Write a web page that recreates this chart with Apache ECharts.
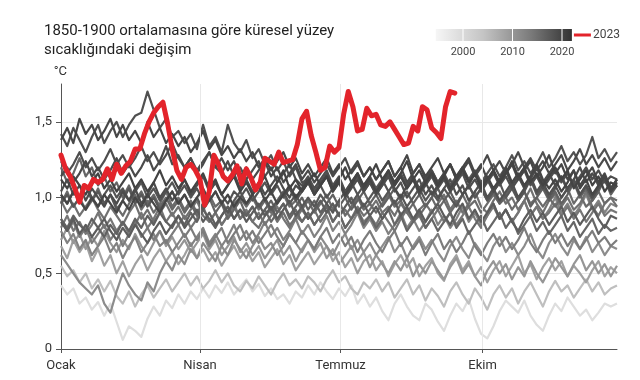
<!DOCTYPE html>
<html>
<head>
<meta charset="utf-8">
<script src="https://cdn.jsdelivr.net/npm/echarts@6/dist/echarts.min.js"></script>
<style>html,body{margin:0;padding:0;background:#fff}#c{width:640px;height:380px}</style>
</head>
<body>
<div id="c"></div>
<script>
// ---------- DATA ----------
const titleText = '1850-1900 ortalamasına göre küresel yüzey\nsıcaklığındaki değişim';
const unitLabel = '°C';
const monthLabels = ['Ocak', 'Nisan', 'Temmuz', 'Ekim'];
const monthStartDays = [0, 90, 181, 273];
const legendYears = [2000, 2010, 2020];
const legendFirstYear = 1995;
const legendLastYear = 2022;
const highlightYear = '2023';
const grayStepDays = 4;
const redStepDays = 3;

const years = [1979, 1982, 1988, 1991, 1994, 1997, 1999, 2001, 2003, 2005, 2007, 2009, 2011, 2013, 2015, 2016, 2017, 2018, 2019, 2020, 2021, 2022];

const s1979 = [0.42,0.36,0.40,0.30,0.34,0.26,0.31,0.22,0.30,0.18, 0.06,0.15,0.12,0.08,0.20,0.28,0.22,0.32,0.27,0.36, 0.30,0.38,0.33,0.40,0.34,0.42,0.37,0.44,0.36,0.41, 0.46,0.38,0.43,0.35,0.40,0.33,0.36,0.30,0.38,0.34, 0.42,0.36,0.44,0.38,0.33,0.40,0.35,0.42,0.30,0.36, 0.28,0.34,0.25,0.19,0.30,0.36,0.28,0.22,0.19,0.30, 0.26,0.18,0.12,0.22,0.30,0.25,0.33,0.20,0.10,0.07, 0.15,0.25,0.32,0.28,0.24,0.32,0.22,0.16,0.12,0.22, 0.30,0.25,0.34,0.28,0.22,0.26,0.19,0.24,0.30,0.28, 0.30];
const s1982 = [0.55,0.48,0.52,0.44,0.50,0.40,0.46,0.38,0.45,0.35, 0.30,0.38,0.28,0.36,0.42,0.34,0.40,0.46,0.38,0.44, 0.50,0.42,0.48,0.40,0.45,0.52,0.44,0.50,0.42,0.38, 0.45,0.40,0.48,0.42,0.36,0.44,0.50,0.42,0.46,0.40, 0.48,0.44,0.38,0.46,0.52,0.44,0.48,0.40,0.36,0.44, 0.40,0.46,0.38,0.44,0.34,0.40,0.46,0.36,0.42,0.32, 0.40,0.35,0.28,0.38,0.44,0.36,0.30,0.40,0.34,0.26, 0.36,0.42,0.34,0.40,0.30,0.38,0.44,0.36,0.28,0.38, 0.45,0.38,0.42,0.34,0.40,0.46,0.38,0.44,0.36,0.40, 0.42];
const s1988 = [0.68,0.60,0.72,0.64,0.70,0.58,0.66,0.55,0.62,0.50, 0.58,0.48,0.56,0.62,0.52,0.60,0.66,0.58,0.64,0.56, 0.62,0.70,0.60,0.66,0.58,0.64,0.55,0.62,0.68,0.60, 0.66,0.58,0.64,0.54,0.60,0.66,0.56,0.62,0.52,0.58, 0.64,0.56,0.62,0.68,0.58,0.64,0.54,0.60,0.50,0.58, 0.62,0.52,0.58,0.48,0.56,0.62,0.54,0.60,0.48,0.55, 0.60,0.50,0.45,0.56,0.62,0.52,0.58,0.48,0.54,0.44, 0.52,0.58,0.48,0.55,0.62,0.50,0.56,0.46,0.54,0.60, 0.52,0.58,0.48,0.55,0.50,0.44,0.52,0.58,0.48,0.54, 0.50];
const s1991 = [0.72,0.80,0.70,0.76,0.66,0.74,0.68,0.78,0.70,0.64, 0.72,0.66,0.76,0.68,0.62,0.70,0.78,0.68,0.74,0.66, 0.72,0.64,0.70,0.76,0.66,0.72,0.62,0.68,0.74,0.64, 0.70,0.62,0.68,0.60,0.66,0.72,0.62,0.68,0.58,0.66, 0.72,0.64,0.70,0.60,0.66,0.56,0.62,0.68,0.58,0.64, 0.54,0.62,0.56,0.50,0.58,0.52,0.60,0.48,0.56,0.50, 0.58,0.52,0.46,0.54,0.60,0.50,0.56,0.48,0.42,0.52, 0.58,0.50,0.56,0.46,0.54,0.48,0.58,0.50,0.44,0.52, 0.60,0.54,0.48,0.56,0.62,0.52,0.58,0.50,0.56,0.48, 0.55];
const s1994 = [0.62,0.56,0.50,0.44,0.40,0.36,0.42,0.30,0.24,0.38, 0.50,0.42,0.36,0.32,0.44,0.38,0.50,0.58,0.52,0.62, 0.56,0.66,0.60,0.70,0.64,0.58,0.68,0.62,0.72,0.66, 0.60,0.68,0.74,0.66,0.70,0.62,0.68,0.76,0.70,0.64, 0.72,0.66,0.74,0.68,0.62,0.70,0.76,0.66,0.72,0.64, 0.70,0.62,0.68,0.74,0.64,0.70,0.60,0.68,0.74,0.66, 0.72,0.64,0.58,0.68,0.74,0.66,0.60,0.70,0.64,0.58, 0.68,0.74,0.64,0.70,0.62,0.68,0.76,0.66,0.60,0.70, 0.76,0.68,0.62,0.72,0.66,0.74,0.64,0.70,0.62,0.68, 0.66];
const s1997 = [0.78,0.70,0.76,0.66,0.72,0.62,0.68,0.74,0.64,0.70, 0.60,0.68,0.74,0.64,0.70,0.76,0.68,0.72,0.64,0.70, 0.76,0.68,0.74,0.80,0.70,0.76,0.68,0.74,0.82,0.72, 0.78,0.70,0.76,0.84,0.74,0.80,0.72,0.78,0.86,0.76, 0.82,0.74,0.80,0.88,0.78,0.84,0.76,0.82,0.90,0.80, 0.86,0.78,0.84,0.76,0.82,0.90,0.80,0.86,0.78,0.84, 0.92,0.82,0.88,0.80,0.86,0.94,0.84,0.90,0.82,0.88, 0.96,0.86,0.92,0.84,0.90,0.98,0.88,0.94,0.86,0.92, 1.00,0.90,0.96,0.88,0.94,1.02,0.92,0.98,0.90,0.96, 0.94];
const s1999 = [0.86,0.78,0.84,0.74,0.80,0.70,0.76,0.82,0.72,0.78, 0.68,0.76,0.84,0.74,0.80,0.72,0.78,0.70,0.76,0.82, 0.74,0.80,0.72,0.78,0.68,0.74,0.80,0.70,0.76,0.82, 0.72,0.78,0.70,0.76,0.82,0.74,0.68,0.76,0.70,0.78, 0.72,0.66,0.74,0.80,0.70,0.76,0.68,0.74,0.64,0.72, 0.78,0.70,0.64,0.72,0.78,0.68,0.74,0.66,0.72,0.62, 0.70,0.76,0.66,0.72,0.64,0.70,0.78,0.68,0.62,0.70, 0.76,0.68,0.74,0.66,0.72,0.80,0.70,0.64,0.72,0.78, 0.70,0.76,0.68,0.74,0.66,0.72,0.78,0.70,0.74,0.68, 0.72];
const s2001 = [0.80,0.88,0.78,0.84,0.76,0.82,0.90,0.80,0.86,0.78, 0.84,0.76,0.82,0.90,0.80,0.86,0.94,0.84,0.90,0.82, 0.88,0.80,0.86,0.94,0.84,0.90,0.82,0.88,0.96,0.86, 0.92,0.84,0.90,0.82,0.88,0.94,0.86,0.80,0.88,0.84, 0.90,0.82,0.88,0.94,0.84,0.90,0.80,0.86,0.92,0.84, 0.88,0.82,0.90,0.84,0.78,0.86,0.92,0.84,0.88,0.80, 0.86,0.92,0.84,0.90,0.82,0.88,0.94,0.86,0.80,0.88, 0.94,0.86,0.92,0.84,0.90,0.98,0.88,0.94,0.86,0.90, 0.96,0.88,0.94,0.86,0.92,0.84,0.90,0.96,0.88,0.92, 0.90];
const s2003 = [0.98,0.90,0.96,0.88,0.94,1.00,0.92,0.86,0.94,0.88, 0.82,0.90,0.96,0.86,0.92,0.84,0.90,0.96,0.88,0.94, 0.86,0.92,0.98,0.88,0.84,0.90,0.82,0.88,0.94,0.86, 0.90,0.84,0.80,0.88,0.92,0.84,0.90,0.82,0.86,0.92, 0.86,0.92,0.84,0.90,0.96,0.88,0.92,0.86,0.94,0.88, 0.92,0.98,0.90,0.94,0.88,0.96,0.90,0.84,0.92,0.96, 0.90,0.96,1.02,0.92,0.98,0.90,0.96,1.04,0.94,0.90, 0.98,1.04,0.96,1.00,0.92,0.98,1.06,0.96,0.90,0.98, 1.02,0.94,1.00,0.92,0.96,1.04,0.94,0.88,0.96,1.00, 0.94];
const s2005 = [0.96,1.04,0.94,1.00,0.92,0.98,1.06,0.96,1.02,0.94, 0.88,0.96,1.02,0.92,0.98,0.90,0.96,1.04,0.94,1.00, 0.92,0.98,0.90,0.96,1.02,0.94,0.98,0.90,0.96,1.00, 0.94,1.00,0.92,0.98,0.90,0.96,1.02,0.94,0.98,0.92, 0.98,0.90,0.96,1.02,0.92,0.98,0.88,0.94,1.00,0.92, 0.96,0.90,0.96,1.02,0.94,0.98,0.90,0.96,0.88,0.94, 1.00,0.92,0.98,0.90,0.96,1.02,0.94,0.98,0.90,0.96, 1.02,0.96,1.00,0.92,0.98,1.04,0.96,1.00,0.94,1.00, 0.94,1.00,1.06,0.96,1.02,0.94,0.98,1.04,0.96,1.00, 0.98];
const s2007 = [1.20,1.10,1.16,1.26,1.14,1.20,1.08,1.14,1.04,1.10, 1.00,1.08,0.98,1.04,0.96,1.02,0.94,1.00,0.92,0.98, 0.90,0.96,0.88,0.94,1.00,0.90,0.96,0.86,0.92,0.98, 0.88,0.94,0.86,0.92,0.84,0.90,0.96,0.86,0.92,0.84, 0.90,0.82,0.88,0.94,0.84,0.90,0.80,0.86,0.92,0.82, 0.88,0.80,0.86,0.92,0.82,0.88,0.78,0.84,0.90,0.80, 0.86,0.78,0.84,0.90,0.80,0.86,0.76,0.82,0.88,0.78, 0.84,0.90,0.80,0.86,0.76,0.82,0.88,0.78,0.84,0.76, 0.82,0.88,0.78,0.84,0.74,0.80,0.86,0.76,0.82,0.78, 0.80];
const s2009 = [0.86,0.80,0.88,0.82,0.78,0.86,0.80,0.74,0.82,0.76, 0.84,0.78,0.86,0.80,0.88,0.82,0.90,0.84,0.80,0.88, 0.82,0.90,0.84,0.92,0.86,0.80,0.88,0.94,0.86,0.92, 0.88,0.94,0.86,0.92,0.98,0.90,0.96,0.88,0.94,1.00, 0.92,0.98,0.90,0.96,1.02,0.94,1.00,0.92,0.98,1.04, 0.96,1.02,0.94,1.00,1.06,0.98,1.04,0.96,1.02,0.94, 1.00,1.06,0.98,1.04,0.96,1.02,1.08,1.00,1.06,0.98, 1.04,0.96,1.02,1.08,0.98,1.04,0.94,1.00,1.06,0.98, 1.04,0.96,1.02,1.10,1.00,1.06,0.98,1.04,1.12,1.02, 1.08];
const s2011 = [0.84,0.78,0.86,0.76,0.82,0.74,0.80,0.86,0.78,0.72, 0.80,0.74,0.82,0.76,0.70,0.78,0.84,0.76,0.82,0.88, 0.80,0.86,0.92,0.84,0.90,0.82,0.88,0.94,0.86,0.92, 0.84,0.90,0.96,0.88,0.94,0.86,0.92,0.98,0.88,0.94, 0.86,0.92,0.98,0.90,0.96,0.88,0.94,1.00,0.90,0.96, 0.88,0.94,0.86,0.92,0.98,0.88,0.94,0.86,0.92,0.84, 0.90,0.96,0.88,0.82,0.90,0.96,0.86,0.92,0.84,0.90, 0.96,0.86,0.92,0.84,0.78,0.86,0.92,0.84,0.90,0.82, 0.88,0.94,0.84,0.90,0.82,0.88,0.94,0.86,0.80,0.88, 0.86];
const s2013 = [0.96,1.02,0.94,1.00,1.08,0.98,1.04,0.96,1.02,0.92, 0.98,1.06,0.96,1.02,0.94,1.00,0.92,0.98,1.04,0.96, 1.02,0.94,1.00,0.92,0.98,1.04,0.96,0.90,0.98,1.04, 0.96,1.02,0.94,1.00,0.92,0.98,1.04,0.96,1.02,0.94, 1.00,0.94,1.02,0.96,0.90,0.98,1.04,0.96,1.02,0.94, 1.00,1.06,0.98,1.04,0.96,1.02,0.94,1.00,1.06,0.98, 1.04,0.98,1.06,1.00,0.94,1.02,1.08,1.00,1.06,0.98, 1.04,1.10,1.00,1.06,0.98,1.04,1.12,1.02,1.08,1.00, 1.06,1.14,1.04,1.10,1.02,1.08,1.00,1.06,1.12,1.04, 1.08];
const s2015 = [1.02,0.96,1.04,0.98,1.08,1.00,0.94,1.02,1.08,1.00, 1.06,0.98,1.04,1.10,1.00,1.06,0.98,1.04,1.10,1.02, 1.08,1.00,1.06,0.98,1.04,1.10,1.02,0.96,1.04,1.00, 1.06,0.98,1.04,1.10,1.02,1.08,1.00,1.06,0.98,1.04, 1.10,1.02,1.08,1.00,1.06,1.12,1.04,1.10,1.02,1.08, 1.14,1.06,1.12,1.04,1.10,1.16,1.08,1.14,1.06,1.12, 1.18,1.10,1.16,1.08,1.14,1.20,1.12,1.18,1.10,1.16, 1.22,1.14,1.20,1.28,1.18,1.24,1.16,1.22,1.30,1.20, 1.26,1.34,1.24,1.30,1.22,1.28,1.40,1.26,1.32,1.24, 1.30];
const s2016 = [1.42,1.34,1.46,1.38,1.30,1.40,1.48,1.36,1.44,1.50, 1.40,1.48,1.54,1.56,1.70,1.58,1.46,1.52,1.40,1.44, 1.36,1.42,1.32,1.48,1.34,1.40,1.30,1.48,1.36,1.30, 1.38,1.26,1.32,1.22,1.28,1.18,1.24,1.14,1.20,1.10, 1.12,1.04,1.10,1.16,1.06,1.12,1.02,1.08,1.14,1.04, 1.10,1.02,1.08,1.14,1.04,1.10,1.00,1.06,1.12,1.02, 1.08,1.00,1.06,1.12,1.02,1.08,0.98,1.04,1.10,1.00, 1.06,0.98,1.04,1.10,1.00,1.06,1.14,1.04,1.10,1.02, 1.08,1.00,1.06,1.12,1.02,1.08,1.00,1.06,1.12,1.04, 1.08];
const s2017 = [1.24,1.16,1.22,1.30,1.20,1.26,1.18,1.24,1.32,1.22, 1.28,1.20,1.26,1.34,1.24,1.30,1.22,1.28,1.36,1.26, 1.20,1.26,1.18,1.24,1.30,1.20,1.16,1.24,1.14,1.20, 1.12,1.18,1.24,1.14,1.20,1.10,1.16,1.22,1.12,1.08, 1.14,1.06,1.12,1.18,1.08,1.14,1.04,1.10,1.16,1.06, 1.12,1.04,1.10,1.16,1.08,1.14,1.06,1.12,1.02,1.08, 1.14,1.06,1.12,1.04,1.10,1.16,1.06,1.12,1.04,1.10, 1.16,1.08,1.14,1.06,1.12,1.18,1.08,1.14,1.06,1.12, 1.18,1.10,1.16,1.08,1.14,1.20,1.12,1.18,1.10,1.14, 1.12];
const s2018 = [1.04,1.12,1.02,1.08,0.98,1.06,1.00,0.94,1.02,0.96, 1.04,0.98,1.06,0.96,1.02,1.10,1.00,1.06,0.98,1.04, 1.12,1.02,1.08,1.14,1.04,1.10,1.02,1.08,1.16,1.06, 1.12,1.04,1.10,1.02,1.08,1.14,1.06,1.00,1.08,1.04, 1.10,1.02,1.08,1.14,1.04,1.10,1.00,1.06,1.12,1.04, 1.10,1.02,1.08,1.14,1.06,1.00,1.08,1.14,1.04,1.10, 1.02,1.08,1.14,1.04,1.10,1.02,1.08,1.16,1.06,1.12, 1.04,1.10,1.18,1.08,1.14,1.06,1.12,1.20,1.10,1.16, 1.08,1.14,1.06,1.12,1.20,1.10,1.16,1.08,1.14,1.06, 1.12];
const s2019 = [1.14,1.20,1.10,1.16,1.24,1.14,1.20,1.12,1.18,1.26, 1.16,1.22,1.14,1.20,1.28,1.18,1.24,1.34,1.22,1.28, 1.20,1.26,1.16,1.22,1.30,1.20,1.26,1.18,1.24,1.14, 1.20,1.12,1.18,1.24,1.14,1.20,1.10,1.16,1.22,1.12, 1.18,1.10,1.16,1.22,1.14,1.20,1.26,1.16,1.22,1.14, 1.20,1.12,1.18,1.24,1.14,1.20,1.10,1.16,1.22,1.12, 1.18,1.10,1.16,1.22,1.12,1.18,1.24,1.14,1.20,1.28, 1.18,1.24,1.16,1.22,1.30,1.20,1.26,1.18,1.24,1.16, 1.22,1.28,1.18,1.24,1.32,1.22,1.28,1.20,1.26,1.18, 1.24];
const s2020 = [1.38,1.46,1.36,1.52,1.42,1.48,1.38,1.44,1.52,1.40, 1.48,1.38,1.44,1.36,1.50,1.40,1.46,1.36,1.42,1.34, 1.40,1.30,1.36,1.44,1.32,1.38,1.28,1.34,1.26,1.32, 1.24,1.30,1.20,1.26,1.18,1.24,1.30,1.20,1.26,1.16, 1.22,1.14,1.20,1.26,1.16,1.22,1.12,1.18,1.24,1.14, 1.20,1.12,1.18,1.24,1.14,1.20,1.28,1.16,1.22,1.14, 1.20,1.26,1.16,1.22,1.14,1.20,1.26,1.16,1.22,1.12, 1.18,1.10,1.16,1.22,1.12,1.18,1.24,1.14,1.20,1.28, 1.16,1.22,1.12,1.18,1.08,1.14,1.20,1.10,1.16,1.06, 1.12];
const s2021 = [1.02,0.96,1.04,0.98,0.92,1.00,0.94,1.02,0.96,0.90, 0.98,0.92,1.00,0.94,1.02,0.96,0.90,0.98,1.04,0.96, 1.02,0.94,1.00,1.06,0.98,1.04,0.96,1.02,0.94,1.00, 0.96,1.02,1.08,0.98,1.04,0.96,1.02,1.08,1.00,1.06, 1.12,1.02,1.08,1.14,1.04,1.10,1.02,1.08,1.16,1.06, 1.12,1.04,1.10,1.18,1.08,1.14,1.06,1.12,1.04,1.10, 1.16,1.08,1.14,1.06,1.12,1.20,1.10,1.16,1.08,1.14, 1.06,1.12,1.20,1.10,1.16,1.08,1.14,1.22,1.12,1.06, 1.12,1.04,1.10,1.18,1.06,1.12,1.02,1.08,1.14,1.04, 1.10];
const s2022 = [1.12,1.06,1.14,1.08,1.02,1.10,1.16,1.06,1.12,1.04, 1.10,1.16,1.06,1.12,1.04,1.10,1.18,1.08,1.14,1.06, 1.12,1.04,1.10,1.16,1.06,1.12,1.02,1.08,1.14,1.04, 1.10,1.02,1.08,1.14,1.04,1.10,1.18,1.06,1.12,1.04, 1.10,1.16,1.08,1.14,1.06,1.12,1.20,1.10,1.16,1.08, 1.14,1.22,1.12,1.18,1.10,1.16,1.24,1.12,1.18,1.10, 1.16,1.08,1.14,1.22,1.12,1.18,1.10,1.16,1.06,1.12, 1.18,1.10,1.16,1.24,1.14,1.20,1.10,1.16,1.08,1.14, 1.20,1.12,1.18,1.06,1.12,1.18,1.08,1.14,1.04,1.10, 1.08];

const red2023 = [1.28,1.19,1.14,1.06,0.97,1.08,1.06,1.12,1.10,1.12, 1.19,1.12,1.22,1.16,1.21,1.24,1.32,1.32,1.42,1.50, 1.56,1.60,1.63,1.49,1.32,1.18,1.12,1.20,1.22,1.18, 1.12,0.95,1.04,1.28,1.22,1.14,1.11,1.15,1.21,1.09, 1.19,1.13,1.05,1.10,1.26,1.24,1.22,1.30,1.23,1.24, 1.25,1.35,1.52,1.57,1.41,1.30,1.18,1.20,1.34,1.30, 1.33,1.55,1.70,1.60,1.44,1.45,1.59,1.54,1.55,1.48, 1.47,1.50,1.45,1.40,1.35,1.36,1.47,1.44,1.60,1.58, 1.46,1.43,1.39,1.60,1.70,1.69];

const grayValues = [s1979, s1982, s1988, s1991, s1994, s1997, s1999, s2001, s2003, s2005, s2007, s2009, s2011, s2013, s2015, s2016, s2017, s2018, s2019, s2020, s2021, s2022];

// ---------- CHART ----------
const RED = '#e3242b';
function grayFor(year) {
  const t = (year - years[0]) / (years[years.length - 1] - years[0]);
  const g = Math.round(222 - 155 * Math.pow(t, 0.6));
  return 'rgb(' + g + ',' + g + ',' + g + ')';
}
const series = [];
series.push({
  type: 'line', data: [], z: 0, silent: true,
  markLine: {
    silent: true, symbol: 'none', label: { show: false },
    lineStyle: { color: '#e8e8e8', width: 1, type: 'solid' },
    data: monthStartDays.slice(1).map(d => ({ xAxis: d }))
  }
});
years.forEach((y, k) => {
  series.push({
    name: String(y), type: 'line', showSymbol: false, silent: true, z: 2,
    lineStyle: { color: grayFor(y), width: 2.2, join: 'round' },
    data: grayValues[k].map((v, i) => [i * grayStepDays, v])
  });
});
series.push({
  name: highlightYear, type: 'line', showSymbol: false, silent: true, z: 5,
  lineStyle: { color: RED, width: 5, join: 'round', cap: 'round' },
  data: red2023.map((v, i) => [i * redStepDays, v])
});

// legend graphics
const LX0 = 463, LPX = 4.95; // x of year 2000, px per year
const xOfYear = y => LX0 + (y - 2000) * LPX;
const barX0 = xOfYear(legendFirstYear - 0.5), barX1 = xOfYear(legendLastYear);
const graphics = [
  {
    type: 'rect', shape: { x: barX0, y: 29, width: barX1 - barX0, height: 12 },
    style: { fill: new echarts.graphic.LinearGradient(0, 0, 1, 0, [
      { offset: 0, color: '#f6f6f6' }, { offset: 0.35, color: '#c4c4c4' },
      { offset: 0.7, color: '#7a7a7a' }, { offset: 0.9, color: '#4a4a4a' }, { offset: 1, color: '#333' }]) }
  }
];
legendYears.forEach(y => {
  graphics.push({ type: 'rect', shape: { x: xOfYear(y) - 0.5, y: 29, width: 1, height: 12 }, style: { fill: '#fff' } });
  graphics.push({ type: 'text', x: xOfYear(y), y: 52, style: { text: String(y), font: '11px Roboto', fill: '#444', align: 'center', verticalAlign: 'middle' } });
});
graphics.push({ type: 'line', shape: { x1: barX1 + 2, y1: 35, x2: barX1 + 19, y2: 35 }, style: { stroke: RED, lineWidth: 3 } });
graphics.push({ type: 'text', x: barX1 + 21, y: 35, style: { text: highlightYear, font: '12px Roboto', fill: '#444', align: 'left', verticalAlign: 'middle' } });

const chart = echarts.init(document.getElementById('c'), null, { renderer: 'canvas' });
chart.setOption({
  animation: false,
  backgroundColor: '#fff',
  textStyle: { fontFamily: 'Roboto' },
  title: {
    text: titleText, left: 39, top: 17,
    textStyle: { fontSize: 15, fontWeight: 400, color: '#222', lineHeight: 19, fontFamily: 'Roboto' }
  },
  grid: { left: 61, right: 23, top: 84, bottom: 31, containLabel: false },
  xAxis: {
    type: 'value', min: 0, max: 360,
    axisLine: { show: true, lineStyle: { color: '#555', width: 1 } },
    axisTick: { show: true, length: 4, lineStyle: { color: '#555' }, customValues: monthStartDays },
    axisLabel: {
      customValues: monthStartDays, color: '#333', fontSize: 13, margin: 10,
      formatter: v => { const k = monthStartDays.indexOf(Math.round(v)); return k >= 0 ? monthLabels[k] : ''; }
    },
    splitLine: { show: false }
  },
  yAxis: {
    type: 'value', min: 0, max: 1.75, interval: 0.25,
    name: unitLabel, nameLocation: 'end', nameGap: 6,
    nameTextStyle: { color: '#333', fontSize: 13, align: 'right', padding: [0, -6, 0, 0] },
    axisLine: { show: true, lineStyle: { color: '#555', width: 1 } },
    axisTick: { show: true, length: 5, lineStyle: { color: '#555' }, customValues: [0, 0.5, 1, 1.5] },
    axisLabel: {
      color: '#333', fontSize: 13, margin: 9,
      formatter: v => {
        if (Math.abs(v * 2 - Math.round(v * 2)) > 1e-6 || v > 1.6) return '';
        return v === 0 ? '0' : v.toFixed(1).replace('.', ',');
      }
    },
    splitLine: { show: true, lineStyle: { color: '#e8e8e8', width: 1 } }
  },
  graphic: graphics,
  series: series
});
</script>
</body>
</html>
